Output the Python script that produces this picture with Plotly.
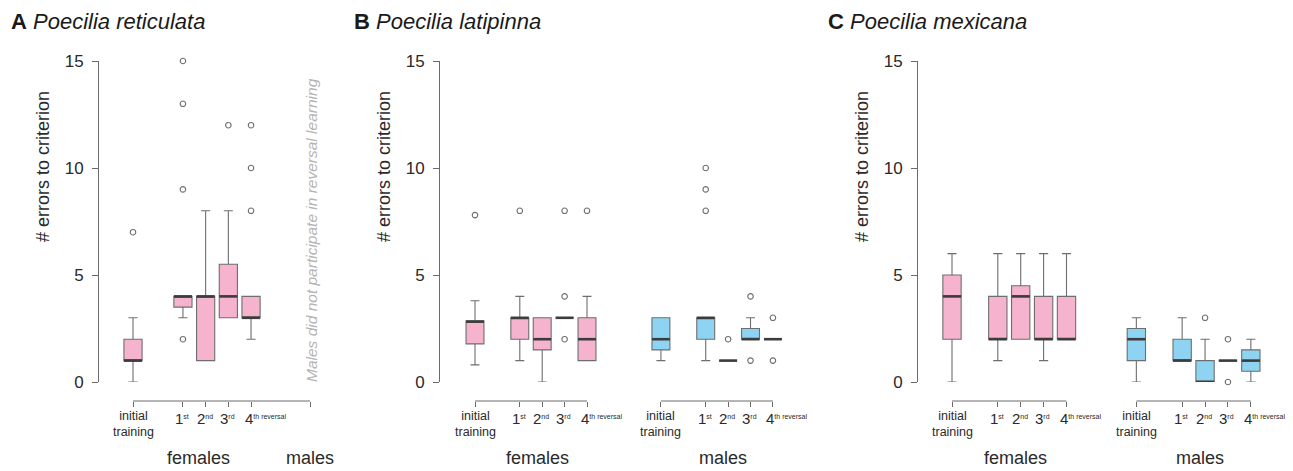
import plotly.graph_objects as go

# ---------------- data ----------------
categories = ["initial training", "1st", "2nd", "3rd", "4th reversal"]
groups = ["females", "males"]
panel_letters = ["A", "B", "C"]
species = ["Poecilia reticulata", "Poecilia latipinna", "Poecilia mexicana"]
y_title = "# errors to criterion"
note_A = "Males did not participate in reversal learning"
y_ticks = [0, 5, 10, 15]

# Panel A - Poecilia reticulata (females only)
A_f_lo = [0, 3, 1, 3, 2]
A_f_q1 = [1, 3.5, 1, 3, 3]
A_f_med = [1, 4, 4, 4, 3]
A_f_q3 = [2, 4, 4, 5.5, 4]
A_f_hi = [3, 4, 8, 8, 4]
A_f_out = [[7], [2, 9, 13, 15], [], [12], [8, 10, 12]]

# Panel B - Poecilia latipinna
B_f_lo = [0.8, 1, 0, 3, 1]
B_f_q1 = [1.78, 2, 1.5, 3, 1]
B_f_med = [2.82, 3, 2, 3, 2]
B_f_q3 = [2.86, 3, 3, 3, 3]
B_f_hi = [3.8, 4, 3, 3, 4]
B_f_out = [[7.8], [8], [], [2, 4, 8], [8]]
B_m_lo = [1, 1, 1, 2, 2]
B_m_q1 = [1.5, 2, 1, 2, 2]
B_m_med = [2, 3, 1, 2, 2]
B_m_q3 = [3, 3, 1, 2.5, 2]
B_m_hi = [3, 3, 1, 3, 2]
B_m_out = [[], [8, 9, 10], [2], [1, 4], [1, 3]]

# Panel C - Poecilia mexicana
C_f_lo = [0, 1, 2, 1, 2]
C_f_q1 = [2, 2, 2, 2, 2]
C_f_med = [4, 2, 4, 2, 2]
C_f_q3 = [5, 4, 4.5, 4, 4]
C_f_hi = [6, 6, 6, 6, 6]
C_f_out = [[], [], [], [], []]
C_m_lo = [0, 1, 0, 1, 0]
C_m_q1 = [1, 1, 0, 1, 0.5]
C_m_med = [2, 1, 0, 1, 1]
C_m_q3 = [2.5, 2, 1, 1, 1.5]
C_m_hi = [3, 3, 2, 1, 2]
C_m_out = [[], [], [3], [0, 2], []]

# ---------------- layout / style ----------------
VIEW_W, VIEW_H = 1293, 471
PAGE_OFF = 8                      # default page margin around the plot div
W, H = VIEW_W - PAGE_OFF, VIEW_H - PAGE_OFF
FONT = "Liberation Sans, Arial, sans-serif"
PINK = "#F5B3CE"
BLUE = "#8ED4F2"
EDGE = "#6E6E6E"
MED = "#3C3C3C"
AXC = "#6A6A6A"
TXT = "#2A2A2A"
BOXW = 0.8


def px(x):
    return (x - PAGE_OFF) / W


def py(y):
    return 1 - (y - PAGE_OFF) / H


panels = [
    dict(yax=99, p1=133, ppu=22.7, right=330, title_x=9,
         fpos=[1, 3.2, 4.2, 5.2, 6.2], mpos=None, male_tick=8.8,
         females=(A_f_lo, A_f_q1, A_f_med, A_f_q3, A_f_hi, A_f_out), males=None,
         ytitle_x=43),
    dict(yax=440, p1=475, ppu=22.4, right=800, title_x=352,
         fpos=[1, 3, 4, 5, 6], mpos=[9.3, 11.3, 12.3, 13.3, 14.3], male_tick=None,
         females=(B_f_lo, B_f_q1, B_f_med, B_f_q3, B_f_hi, B_f_out),
         males=(B_m_lo, B_m_q1, B_m_med, B_m_q3, B_m_hi, B_m_out),
         ytitle_x=384),
    dict(yax=918, p1=952, ppu=22.9, right=1280, title_x=826,
         fpos=[1, 3, 4, 5, 6], mpos=[9.05, 11.05, 12.05, 13.05, 14.05], male_tick=None,
         females=(C_f_lo, C_f_q1, C_f_med, C_f_q3, C_f_hi, C_f_out),
         males=(C_m_lo, C_m_q1, C_m_med, C_m_q3, C_m_hi, C_m_out),
         ytitle_x=862),
]


def label_annotations(xa, positions):
    """Category labels under the bracket axis."""
    out = []
    for xp, cat in zip(positions, categories):
        if cat.startswith("initial"):
            out.append(dict(text=cat.replace(" ", "<br>"), x=xp, xref=xa,
                            y=py(407), yref="paper", xanchor="center", yanchor="top",
                            showarrow=False, align="center",
                            font=dict(family=FONT, size=12.5, color=TXT)))
        else:
            num, rest = cat[0], cat[1:]
            parts = rest.split(" ", 1)
            suf = parts[0]
            tail = (" " + parts[1]) if len(parts) > 1 else ""
            txt = ('<span style="font-size:15px">%s</span>'
                   '<sup><span style="font-size:7px">%s%s</span></sup>' % (num, suf, tail))
            if tail:
                out.append(dict(text=txt, x=xp, xref=xa, xshift=-8.5,
                                y=py(408), yref="paper", xanchor="left", yanchor="top",
                                showarrow=False,
                                font=dict(family=FONT, size=13, color=TXT)))
            else:
                out.append(dict(text=txt, x=xp, xref=xa, xshift=-1,
                                y=py(408), yref="paper", xanchor="center", yanchor="top",
                                showarrow=False,
                                font=dict(family=FONT, size=13, color=TXT)))
    return out


fig = go.Figure()
shapes = []
annotations = []
Y0_PX, Y15_PX = 382, 61
BRACKET_PX = 401

for i, p in enumerate(panels, start=1):
    xa, ya = "x%d" % i, "y%d" % i
    sets = [(p["fpos"], p["females"], PINK)]
    if p["males"] is not None:
        sets.append((p["mpos"], p["males"], BLUE))
    for pos, (lo, q1, med, q3, hi, out), col in sets:
        fig.add_trace(go.Box(
            x=pos, q1=q1, median=med, q3=q3, lowerfence=lo, upperfence=hi,
            width=BOXW, whiskerwidth=0.5, fillcolor=col,
            line=dict(color=EDGE, width=1.1), boxpoints=False,
            xaxis=xa, yaxis=ya, showlegend=False, hoverinfo="skip"))
        mx, my = [], []
        for xp, m in zip(pos, med):
            mx += [xp - BOXW / 2, xp + BOXW / 2, None]
            my += [m, m, None]
        fig.add_trace(go.Scatter(
            x=mx, y=my, mode="lines", line=dict(color=MED, width=2.6),
            xaxis=xa, yaxis=ya, showlegend=False, hoverinfo="skip"))
        ox, oy = [], []
        for xp, o in zip(pos, out):
            ox += [xp] * len(o)
            oy += o
        if ox:
            fig.add_trace(go.Scatter(
                x=ox, y=oy, mode="markers", cliponaxis=False,
                marker=dict(symbol="circle-open", size=5.5, color=EDGE,
                            line=dict(width=1.1, color=EDGE)),
                xaxis=xa, yaxis=ya, showlegend=False, hoverinfo="skip"))
        annotations += label_annotations(xa, pos)

    lo_r = 1 - (p["p1"] - p["yax"]) / p["ppu"]
    hi_r = 1 + (p["right"] - p["p1"]) / p["ppu"]
    tickvals = list(p["fpos"])
    if p["mpos"] is not None:
        tickvals += p["mpos"]
        groups_x = [(p["fpos"][0] + p["fpos"][-1]) / 2 + 0.28,
                    (p["mpos"][0] + p["mpos"][-1]) / 2 + 0.28]
        brackets = [(p["fpos"][0], p["fpos"][-1]), (p["mpos"][0], p["mpos"][-1])]
    else:
        tickvals += [p["male_tick"]]
        groups_x = [(p["fpos"][0] + p["fpos"][-1]) / 2 + 0.28, p["male_tick"]]
        brackets = [(p["fpos"][0], p["male_tick"])]

    fig.layout["xaxis%d" % i] = dict(
        domain=[px(p["yax"]), px(p["right"])], range=[lo_r, hi_r],
        anchor="free", position=py(BRACKET_PX), showline=False, showgrid=False,
        zeroline=False, tickmode="array", tickvals=tickvals,
        showticklabels=False, automargin=False,
        ticks="outside", ticklen=5, tickwidth=1, tickcolor=AXC,
        fixedrange=True)
    fig.layout["yaxis%d" % i] = dict(
        domain=[py(Y0_PX), py(Y15_PX)], range=[0, 15], anchor=xa,
        showline=True, linecolor=AXC, linewidth=1, showgrid=False, zeroline=False,
        tickmode="array", tickvals=y_ticks, ticks="outside", ticklen=6,
        tickwidth=1, tickcolor=AXC, ticklabelstandoff=5, automargin=False,
        tickfont=dict(family=FONT, size=17, color=TXT), fixedrange=True)

    for b0, b1 in brackets:
        shapes.append(dict(type="line", xref=xa, yref="paper", x0=b0, x1=b1,
                           y0=py(BRACKET_PX), y1=py(BRACKET_PX),
                           line=dict(color=AXC, width=1)))
    for gx, g in zip(groups_x, groups):
        annotations.append(dict(text=g, x=gx, xref=xa, y=py(458), yref="paper",
                                xanchor="center", yanchor="middle", showarrow=False,
                                font=dict(family=FONT, size=18, color=TXT)))
    annotations.append(dict(
        text="<b>%s</b> <i>%s</i>" % (panel_letters[i - 1], species[i - 1]),
        x=px(p["title_x"]), xref="paper", y=py(22), yref="paper",
        xanchor="left", yanchor="middle", showarrow=False,
        font=dict(family=FONT, size=22, color="#1A1A1A")))
    annotations.append(dict(
        text=y_title, x=px(p["ytitle_x"]), xref="paper", y=py(167), yref="paper",
        xanchor="center", yanchor="middle", textangle=-90, showarrow=False,
        font=dict(family=FONT, size=18, color=TXT)))

annotations.append(dict(
    text="<i>%s</i>" % note_A, x=px(312), xref="paper", y=py(230), yref="paper",
    xanchor="center", yanchor="middle", textangle=-90, showarrow=False,
    font=dict(family=FONT, size=15.5, color="#B4B4B4")))

fig.update_layout(
    template="none",
    width=W, height=H, margin=dict(l=0, r=0, t=0, b=0, pad=0, autoexpand=False),
    paper_bgcolor="white", plot_bgcolor="white", showlegend=False,
    shapes=shapes, annotations=annotations, boxmode="overlay",
    font=dict(family=FONT, color=TXT))

fig.write_html("out.html")
